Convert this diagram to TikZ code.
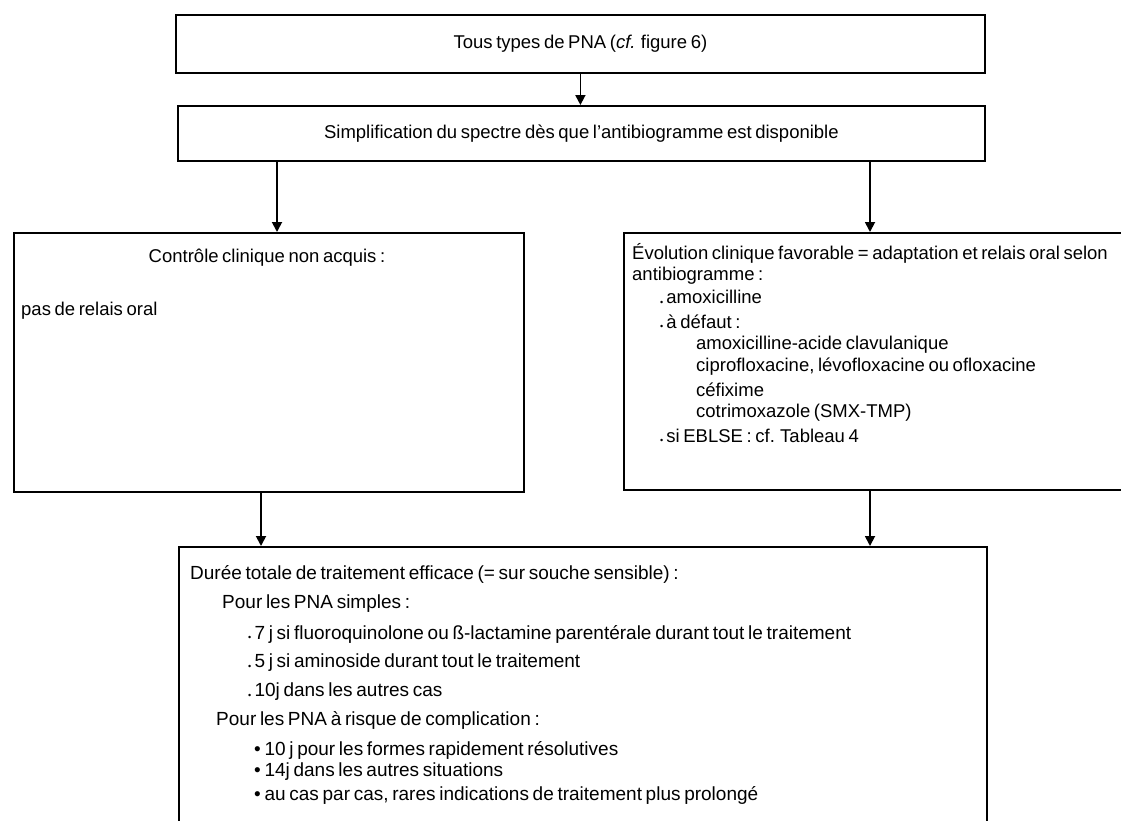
\documentclass[tikz,border=0pt]{standalone}
\usepackage{fontspec}
\setmainfont{Liberation Sans}[WordSpace=0.7]
\usetikzlibrary{arrows.meta}

\tikzset{
  boite/.style={draw, line width=1.8pt, rectangle, inner sep=0pt, anchor=north west},
  fleche/.style={-{Triangle[length=10pt,width=10pt]}, line width=1.8pt},
  ligne/.style={anchor=west, inner sep=0pt}
}
\newcommand{\puce}{{\small\raisebox{-0.3ex}{•}}\,}
\newcommand{\gpuce}{•\ }

\begin{document}
\begin{tikzpicture}[x=1pt, y=-1pt, font=\fontsize{18.5}{21}\selectfont]
    \useasboundingbox (0,0) rectangle (1121,820);
    % Boxes
    \node[boite, minimum width=809pt, minimum height=58pt] (tous) at (175,14) {Tous types de PNA (\textit{cf.} figure 6)};
    \node[boite, minimum width=807pt, minimum height=55pt] (simp) at (177,105) {Simplification du spectre dès que l’antibiogramme est disponible};
    \node[boite, minimum width=510pt, minimum height=259pt] (nonacquis) at (13,232) {};
    \node[boite, minimum width=520pt, minimum height=257pt] (favorable) at (623,232) {};
    \node[boite, minimum width=808pt, minimum height=290pt] (duree) at (178,546) {};
    % Arrows between the boxes
    \draw[fleche] (tous.south) -- (tous.south |- simp.north);
    \draw[fleche] (277,0 |- simp.south) -- (277,0 |- nonacquis.north);
    \draw[fleche] (870,0 |- simp.south) -- (870,0 |- favorable.north);
    \draw[fleche] (261,0 |- nonacquis.south) -- (261,0 |- duree.north);
    \draw[fleche] (870,0 |- favorable.south) -- (870,0 |- duree.north);
    % Left box
    \node (titreg) at (267,258) {Contrôle clinique non acquis :};
    \node[ligne] (relais) at (21,311) {pas de relais oral};
    % Right box
    \node[ligne] (evol) at (632,253) {Évolution clinique favorable = adaptation et relais oral selon};
    \node[ligne] (antibio) at (632,276) {antibiogramme :};
    \node[ligne] (amox) at (660,298) {\puce amoxicilline};
    \node[ligne] (defaut) at (660,322) {\puce à défaut :};
    \node[ligne] (acide) at (696,345) {amoxicilline-acide clavulanique};
    \node[ligne] (cipro) at (696,367) {ciprofloxacine, lévofloxacine ou ofloxacine};
    \node[ligne] (cefix) at (696,390) {céfixime};
    \node[ligne] (cotri) at (696,413) {cotrimoxazole (SMX-TMP)};
    \node[ligne] (eblse) at (660,436) {\puce si EBLSE : cf. Tableau 4};
    % Bottom box
    \begin{scope}[font=\fontsize{19}{22}\selectfont]
    \node[ligne] (totale) at (190,574) {Durée totale de traitement efficace (= sur souche sensible) :};
    \node[ligne] (simples) at (222,604) {Pour les PNA simples :};
    \node[ligne] (sept) at (248,634) {\puce 7 j si fluoroquinolone ou ß-lactamine parentérale durant tout le traitement};
    \node[ligne] (cinq) at (248,663) {\puce 5 j si aminoside durant tout le traitement};
    \node[ligne] (dix) at (248,692) {\puce 10j dans les autres cas};
    \node[ligne] (risque) at (216,720) {Pour les PNA à risque de complication :};
    \node[ligne] (formes) at (254,750) {\gpuce 10 j pour les formes rapidement résolutives};
    \node[ligne] (situations) at (254,772) {\gpuce 14j dans les autres situations};
    \node[ligne] (parcas) at (254,795) {\gpuce au cas par cas, rares indications de traitement plus prolongé};
    \end{scope}
\end{tikzpicture}
\end{document}
